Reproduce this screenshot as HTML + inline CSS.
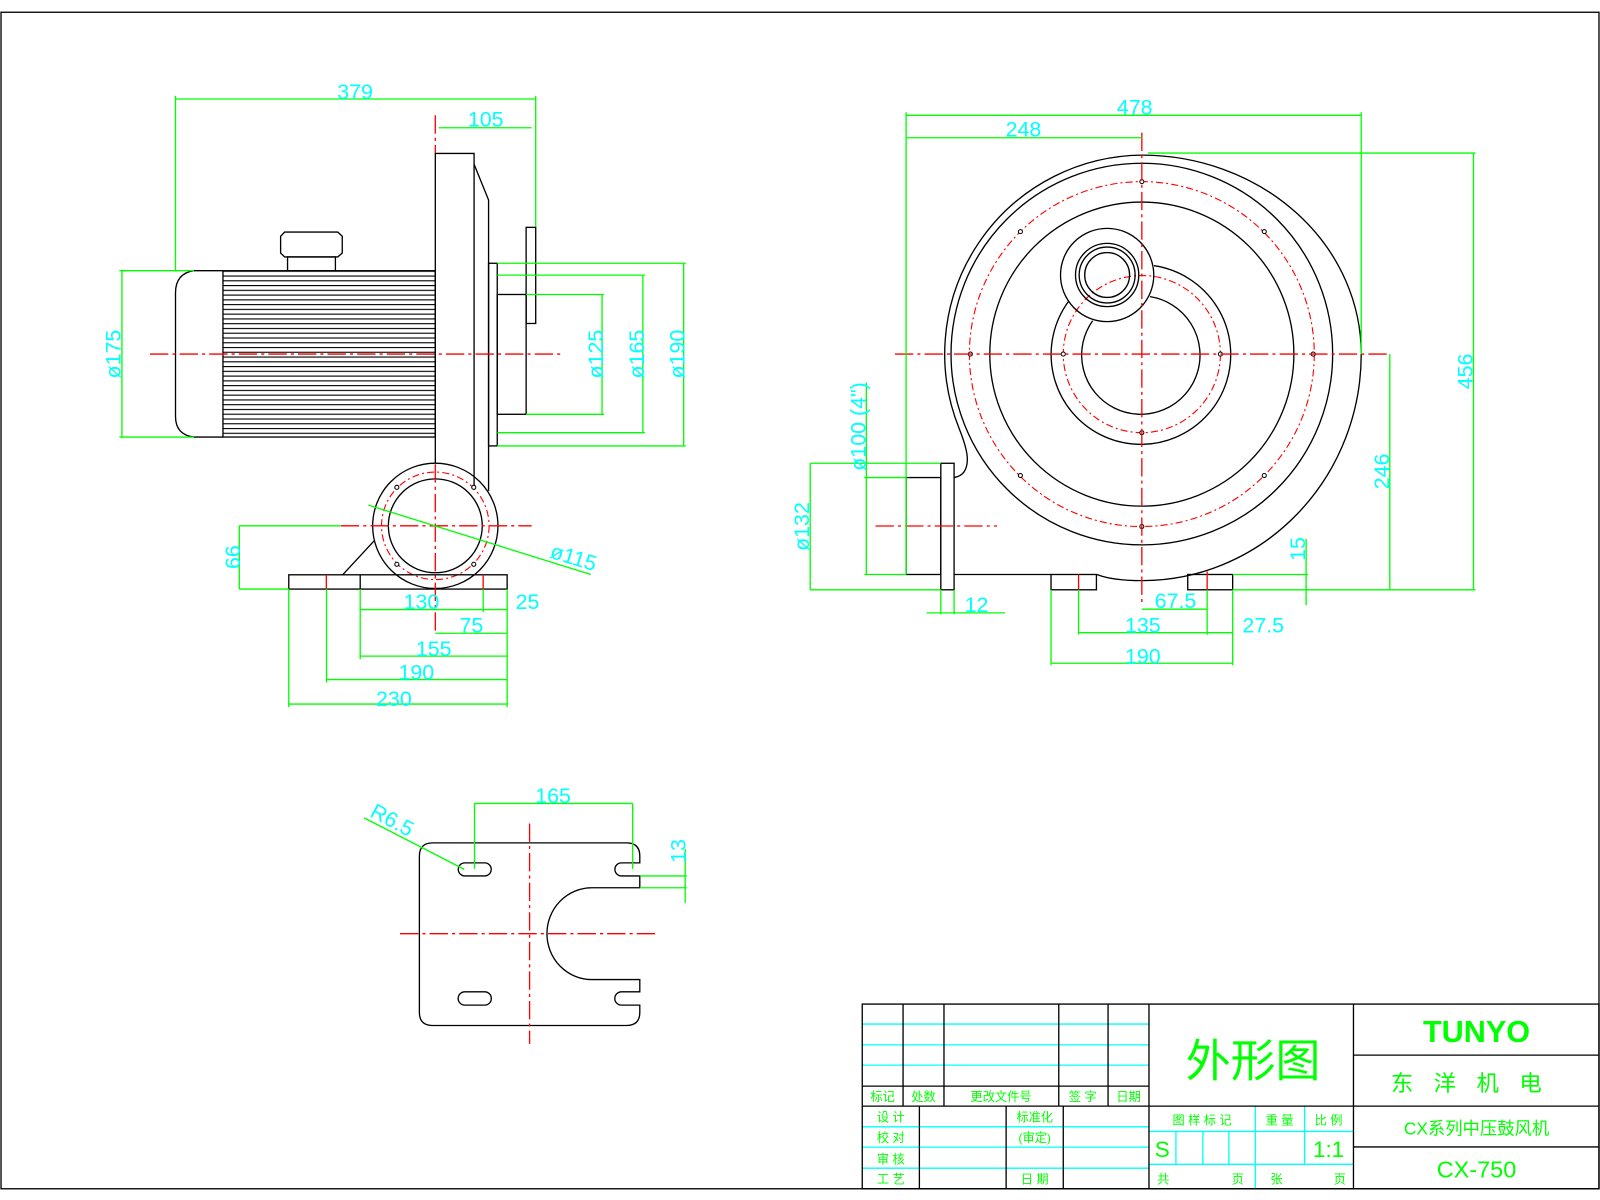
<!DOCTYPE html>
<html><head><meta charset="utf-8"><style>
html,body{margin:0;padding:0;background:#fff;}
svg{display:block;}
.k{stroke:#000;stroke-width:1.3;fill:none;}
.g{stroke:#00ff00;stroke-width:1.3;fill:none;}
.r{stroke:#ff0000;stroke-width:1.3;fill:none;stroke-dasharray:18 4 3 4;}
.rs{stroke:#ff0000;stroke-width:1.3;fill:none;}
.rd{stroke:#ff0000;stroke-width:1.1;fill:none;stroke-dasharray:7 3 2 3;}
.c{stroke:#00ffff;stroke-width:1.3;fill:none;}
.t{fill:#00ffff;font-family:"Liberation Sans",sans-serif;font-size:21px;text-anchor:middle;}
.tg{fill:#00ff00;font-family:"Liberation Sans","Noto Sans CJK SC",sans-serif;text-anchor:middle;}
.h{fill:#fff;stroke:#000;stroke-width:1;}
</style></head><body>
<svg width="1600" height="1200" viewBox="0 0 1600 1200" xmlns="http://www.w3.org/2000/svg">
<defs>
<pattern id="fin" x="0" y="265.3" width="10" height="4.67" patternUnits="userSpaceOnUse">
<line x1="0" y1="0.5" x2="10" y2="0.5" stroke="#000" stroke-width="1.2"/>
</pattern>
</defs>
<g transform="scale(1.020408)">
<!-- frame -->
<rect x="1" y="12" width="1566" height="1153" class="k"/>

<!-- ================= LEFT VIEW ================= -->
<!-- motor end cap -->
<path class="k" d="M218.5,265.3 L190,265.3 Q172,268 172,287 L172,408 Q172,426 190,428.3 L218.5,428.3"/>
<rect x="218.5" y="265.3" width="208" height="163" fill="url(#fin)" stroke="#000" stroke-width="1.3"/>
<!-- terminal box -->
<path class="k" d="M279,227.4 L331,227.4 L335.4,231.5 L335.4,248 L331,251.8 L279,251.8 L275,248 L275,231.5 Z"/>
<rect class="k" x="281.8" y="251.8" width="46.9" height="13.5"/>
<!-- housing -->
<path class="k" d="M426.6,454 L426.6,150.4 L464.6,150.4 L464.6,480"/>
<path class="k" d="M464.6,161 L478.8,196 L478.8,481"/>
<rect class="k" x="478.8" y="258" width="8.5" height="179"/>
<rect class="k" x="487.3" y="288.6" width="28.3" height="117.4"/>
<rect class="k" x="515.6" y="222.8" width="9.4" height="94.2"/>
<!-- outlet circle -->
<circle class="k" cx="426.6" cy="515.3" r="61.4" fill="#fff"/>
<circle class="rd" cx="426.6" cy="515.3" r="52.7"/>
<circle class="k" cx="426.6" cy="515.3" r="46"/>
<circle class="h" cx="388.9" cy="477.6" r="2"/><circle class="h" cx="464.3" cy="477.6" r="2"/>
<circle class="h" cx="388.9" cy="553" r="2"/><circle class="h" cx="464.3" cy="553" r="2"/>
<!-- base -->
<rect class="k" x="283" y="563.3" width="214" height="14" fill="#fff"/>
<line class="k" x1="353" y1="563.3" x2="353" y2="577.3"/>
<line class="k" x1="335.8" y1="563.3" x2="367" y2="529.6"/>
<line class="rs" x1="319.8" y1="563.3" x2="319.8" y2="577.3"/>
<line class="rs" x1="473.5" y1="563.3" x2="473.5" y2="577.3"/>
<!-- centerlines -->
<line class="r" x1="147" y1="347" x2="549" y2="347"/>
<line class="r" x1="426.6" y1="113" x2="426.6" y2="150"/>
<line class="r" x1="426.6" y1="455" x2="426.6" y2="622"/>
<line class="r" x1="334" y1="515.3" x2="521" y2="515.3"/>
<!-- dims -->
<g class="g">
<line x1="172" y1="97" x2="525" y2="97"/><line x1="172" y1="94" x2="172" y2="265"/><line x1="525" y1="94" x2="525" y2="222"/>
<line x1="430" y1="125.2" x2="521" y2="125.2"/>
<line x1="119.5" y1="265.3" x2="119.5" y2="428.3"/><line x1="117" y1="265.3" x2="190" y2="265.3"/><line x1="117" y1="428.3" x2="190" y2="428.3"/>
<line x1="590" y1="288.6" x2="590" y2="406"/><line x1="515.6" y1="288.6" x2="592" y2="288.6"/><line x1="515.6" y1="406" x2="592" y2="406"/>
<line x1="630" y1="269.6" x2="630" y2="424"/><line x1="487.3" y1="269.6" x2="632" y2="269.6"/><line x1="487.3" y1="424" x2="632" y2="424"/>
<line x1="670" y1="258" x2="670" y2="437"/><line x1="487.3" y1="258" x2="672" y2="258"/><line x1="487.3" y1="437" x2="672" y2="437"/>
<line x1="234.5" y1="515.3" x2="234.5" y2="577.3"/><line x1="234.5" y1="515.3" x2="334" y2="515.3"/><line x1="234.5" y1="577.3" x2="283" y2="577.3"/>
<line x1="361" y1="495" x2="579" y2="563"/>
<line x1="353" y1="597.4" x2="473.5" y2="597.4"/><line x1="473.5" y1="597.4" x2="497" y2="597.4"/>
<line x1="426.6" y1="620.6" x2="497" y2="620.6"/>
<line x1="353" y1="643" x2="497" y2="643"/>
<line x1="320" y1="666" x2="497" y2="666"/>
<line x1="283" y1="690" x2="497" y2="690"/>
<line x1="283" y1="577.3" x2="283" y2="693"/><line x1="320" y1="577.3" x2="320" y2="669"/><line x1="353" y1="577.3" x2="353" y2="646"/>
<line x1="497" y1="577.3" x2="497" y2="693"/><line x1="473.5" y1="577.3" x2="473.5" y2="600"/>
</g>
<text class="t" x="348" y="97">379</text>
<text class="t" x="476" y="124">105</text>
<text class="t" transform="translate(118,347) rotate(-90)">ø175</text>
<text class="t" transform="translate(591,347) rotate(-90)">ø125</text>
<text class="t" transform="translate(631,347) rotate(-90)">ø165</text>
<text class="t" transform="translate(671,347) rotate(-90)">ø190</text>
<text class="t" transform="translate(235,546) rotate(-90)">66</text>
<text class="t" transform="translate(560,553) rotate(17)">ø115</text>
<text class="t" x="413" y="597">130</text>
<text class="t" x="517" y="597">25</text>
<text class="t" x="462" y="620">75</text>
<text class="t" x="425" y="643">155</text>
<text class="t" x="408" y="666">190</text>
<text class="t" x="386" y="692">230</text>

<!-- ================= RIGHT VIEW ================= -->
<path class="k" d="M935,468 Q948,466 948,450 Q948,440 940,420 A195,195 0 0 1 1119,152 A215,195 0 0 1 1334,347 A215,222 0 0 1 1119,569 Q1090,569 1075,563"/>
<circle class="k" cx="1119" cy="347" r="187"/>
<circle class="rd" cx="1119" cy="347" r="169"/>
<circle class="k" cx="1119" cy="347" r="149"/>
<g>
<circle class="h" cx="1119" cy="178" r="2"/><circle class="h" cx="1000" cy="227" r="2"/><circle class="h" cx="1239" cy="227" r="2"/>
<circle class="h" cx="951" cy="347" r="2"/><circle class="h" cx="1287" cy="347" r="2"/>
<circle class="h" cx="1000" cy="466" r="2"/><circle class="h" cx="1239" cy="466" r="2"/><circle class="h" cx="1119" cy="516" r="2"/>
</g>
<path class="k" d="M1131,260.4 A88,88 0 1 1 1047,295.6"/>
<circle class="rd" cx="1119" cy="347" r="77"/>
<path class="k" d="M1127,290.7 A58,58 0 1 1 1070.8,314.3"/>
<circle class="k" cx="1085" cy="269.5" r="45.7"/>
<circle class="k" cx="1085" cy="269.5" r="31"/>
<circle class="k" cx="1085" cy="269.5" r="27.4"/>
<circle class="k" cx="1085" cy="269.5" r="22"/>
<circle class="h" cx="1042" cy="347" r="2"/><circle class="h" cx="1196" cy="347" r="2"/><circle class="h" cx="1119" cy="424" r="2"/>
<!-- outlet -->
<rect class="k" x="888" y="468" width="34" height="95"/>
<rect class="k" x="922" y="454" width="13" height="124" fill="#fff"/>
<line class="k" x1="935" y1="563" x2="1030" y2="563"/>
<rect class="k" x="1030" y="563" width="44.5" height="15"/>
<rect class="k" x="1164" y="563" width="44" height="15"/>
<line class="rs" x1="1057" y1="563" x2="1057" y2="578"/>
<line class="rs" x1="1183" y1="560" x2="1183" y2="578"/>
<!-- centerlines -->
<line class="r" x1="877" y1="347" x2="1362" y2="347"/>
<line class="r" x1="1119" y1="130" x2="1119" y2="590"/>
<line class="r" x1="858" y1="515.5" x2="977" y2="515.5"/>
<!-- dims -->
<g class="g">
<line x1="888" y1="113" x2="1334" y2="113"/><line x1="888" y1="110" x2="888" y2="563"/><line x1="1334" y1="110" x2="1334" y2="347"/>
<line x1="888" y1="135" x2="1119" y2="135"/>
<line x1="1444" y1="150" x2="1444" y2="578"/><line x1="1125" y1="150" x2="1446" y2="150"/><line x1="1208" y1="578" x2="1446" y2="578"/>
<line x1="1362" y1="347" x2="1362" y2="578"/>
<line x1="1280" y1="528" x2="1280" y2="593"/><line x1="1208" y1="563" x2="1282" y2="563"/>
<line x1="849" y1="375" x2="849" y2="563"/><line x1="847" y1="468" x2="888" y2="468"/><line x1="847" y1="563" x2="888" y2="563"/>
<line x1="794" y1="454" x2="794" y2="578"/><line x1="794" y1="454" x2="922" y2="454"/><line x1="794" y1="578" x2="922" y2="578"/>
<line x1="908" y1="600.6" x2="985" y2="600.6"/><line x1="922" y1="578" x2="922" y2="602"/><line x1="935" y1="578" x2="935" y2="602"/>
<line x1="1119" y1="597" x2="1183" y2="597"/>
<line x1="1057" y1="620" x2="1183" y2="620"/><line x1="1183" y1="620" x2="1208" y2="620"/>
<line x1="1030" y1="650" x2="1208" y2="650"/>
<line x1="1030" y1="578" x2="1030" y2="652"/><line x1="1057" y1="578" x2="1057" y2="622"/><line x1="1183" y1="578" x2="1183" y2="622"/><line x1="1208" y1="578" x2="1208" y2="652"/>
</g>
<text class="t" x="1112" y="112">478</text>
<text class="t" x="1003" y="134">248</text>
<text class="t" transform="translate(1443,364) rotate(-90)">456</text>
<text class="t" transform="translate(1361,462) rotate(-90)">246</text>
<text class="t" transform="translate(1279,538) rotate(-90)">15</text>
<text class="t" transform="translate(848,418) rotate(-90)">ø100 (4")</text>
<text class="t" transform="translate(793,516) rotate(-90)">ø132</text>
<text class="t" x="957" y="600">12</text>
<text class="t" x="1152" y="596">67.5</text>
<text class="t" x="1120" y="620">135</text>
<text class="t" x="1238" y="620">27.5</text>
<text class="t" x="1120" y="650">190</text>

<!-- ================= FOOT PLATE ================= -->
<path class="k" d="M424,826 L614,826 Q627,826 627,839 L627,845.6 L609,845.6 A6.4,6.4 0 0 0 609,858.4 L627,858.4 L627,870 L580,870 A44,45 0 0 0 580,960 L627,960 L627,972 L609,972 A6.5,6.5 0 0 0 609,985 L627,985 L627,992 Q627,1005 614,1005 L424,1005 Q411,1005 411,992 L411,839 Q411,826 424,826 Z"/>
<path class="k" d="M455.5,845.6 L475,845.6 A6.4,6.4 0 0 1 475,858.4 L455.5,858.4 A6.4,6.4 0 0 1 455.5,845.6 Z"/>
<path class="k" d="M455.5,972 L475,972 A6.5,6.5 0 0 1 475,985 L455.5,985 A6.5,6.5 0 0 1 455.5,972 Z"/>
<line class="r" x1="519" y1="807" x2="519" y2="1023"/>
<line class="r" x1="392" y1="915" x2="646" y2="915"/>
<g class="g">
<line x1="465" y1="787.4" x2="620" y2="787.4"/><line x1="465" y1="787.4" x2="465" y2="851.5"/><line x1="620" y1="787.4" x2="620" y2="851.5"/>
<line x1="356.8" y1="801.5" x2="455" y2="852"/>
<line x1="671.5" y1="832" x2="671.5" y2="885"/><line x1="627" y1="858.4" x2="673" y2="858.4"/><line x1="627" y1="870" x2="673" y2="870"/>
</g>
<text class="t" x="542" y="787">165</text>
<text class="t" transform="translate(381,810) rotate(28)">R6.5</text>
<text class="t" transform="translate(672,834) rotate(-90)">13</text>

<!-- ================= TITLE BLOCK ================= -->
<g class="c">
<line x1="845" y1="1003.6" x2="1126" y2="1003.6"/><line x1="845" y1="1024" x2="1126" y2="1024"/><line x1="845" y1="1043.8" x2="1126" y2="1043.8"/>
<line x1="845" y1="1104.3" x2="1126" y2="1104.3"/><line x1="845" y1="1124.2" x2="1126" y2="1124.2"/><line x1="845" y1="1144.8" x2="1126" y2="1144.8"/>
<line x1="1126" y1="1108.8" x2="1326" y2="1108.8"/><line x1="1126" y1="1141" x2="1326" y2="1141"/>
<line x1="1152.4" y1="1108.8" x2="1152.4" y2="1141"/><line x1="1178.8" y1="1108.8" x2="1178.8" y2="1141"/><line x1="1204.3" y1="1108.8" x2="1204.3" y2="1141"/>
<line x1="1230.2" y1="1084" x2="1230.2" y2="1165"/><line x1="1278.5" y1="1084" x2="1278.5" y2="1141"/>
</g>
<g class="k">
<rect x="845" y="984" width="722" height="181"/>
<line x1="845" y1="1064.4" x2="1126" y2="1064.4"/><line x1="845" y1="1084" x2="1567" y2="1084"/>
<line x1="885" y1="984" x2="885" y2="1084"/><line x1="925.1" y1="984" x2="925.1" y2="1084"/><line x1="1037.6" y1="984" x2="1037.6" y2="1084"/><line x1="1085.9" y1="984" x2="1085.9" y2="1084"/>
<line x1="1126" y1="984" x2="1126" y2="1165"/><line x1="1326.4" y1="984" x2="1326.4" y2="1165"/>
<line x1="901" y1="1084" x2="901" y2="1165"/><line x1="986" y1="1084" x2="986" y2="1165"/><line x1="1042" y1="1084" x2="1042" y2="1165"/>
<line x1="1326.4" y1="1034" x2="1567" y2="1034"/><line x1="1326.4" y1="1124" x2="1567" y2="1124"/>
</g>
<g class="tg" font-size="12">
<text x="865" y="1079">标记</text><text x="905" y="1079">处数</text><text x="981" y="1079">更改文件号</text><text x="1061" y="1079">签 字</text><text x="1106" y="1079">日期</text>
<text x="873" y="1099">设 计</text><text x="873" y="1119">校 对</text><text x="873" y="1140">审 核</text><text x="873" y="1160">工 艺</text>
<text x="1014" y="1099">标准化</text><text x="1014" y="1119">(审定)</text><text x="1014" y="1160">日 期</text>
<text x="1178" y="1102">图 样 标 记</text><text x="1254" y="1102">重 量</text><text x="1302" y="1102">比 例</text>
<text x="1140" y="1160">共</text><text x="1213" y="1160">页</text><text x="1251" y="1160">张</text><text x="1313" y="1160">页</text>
</g>
<text class="tg" x="1139" y="1134" font-size="22">S</text>
<text class="tg" x="1302" y="1134" font-size="22">1:1</text>
<text class="tg" x="1228" y="1055" font-size="44">外形图</text>
<text class="tg" x="1447" y="1021" font-size="30" font-weight="bold">TUNYO</text>
<text class="tg" x="1447" y="1069" font-size="22" letter-spacing="20">东洋机电</text>
<text class="tg" x="1447" y="1112" font-size="17">CX系列中压鼓风机</text>
<text class="tg" x="1447" y="1154" font-size="23">CX-750</text>
</g>
</svg>
</body></html>
